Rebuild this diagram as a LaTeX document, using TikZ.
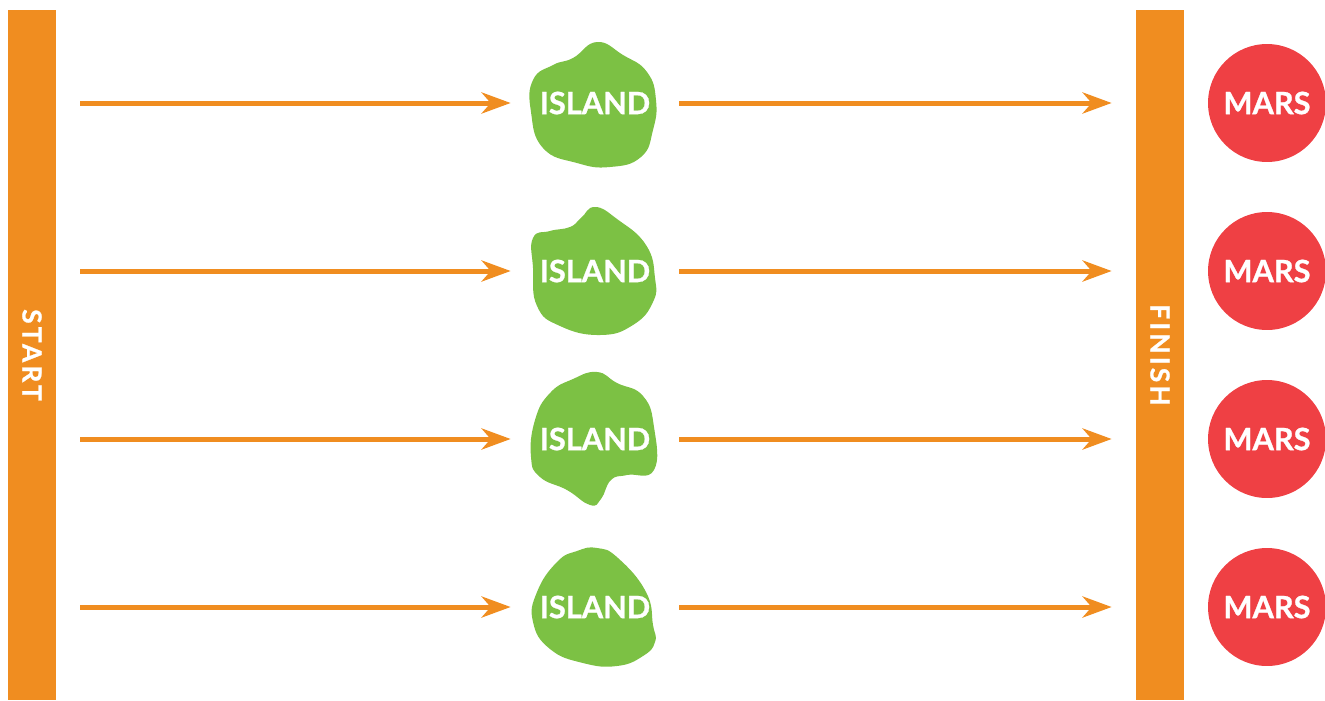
\documentclass[tikz,border=0pt]{standalone}
\usepackage{fontspec}
\setmainfont{Lato}[BoldFeatures={FakeBold=0.9}]
\newfontfamily\barfont{Lato}[LetterSpace=12, BoldFeatures={FakeBold=0.9}]
\usetikzlibrary{arrows.meta}
\definecolor{barorange}{RGB}{240,141,32}
\definecolor{islegreen}{RGB}{124,193,68}
\definecolor{marsred}{RGB}{239,64,68}
\tikzset{
  bar/.style={fill=barorange, minimum width=0.96cm, minimum height=13.8cm,
    inner sep=0pt, text=white, font=\barfont\bfseries\fontsize{15}{17}\selectfont},
  island/.style={minimum width=3.36cm, minimum height=2.4cm, inner sep=0pt,
    text=white, font=\bfseries\fontsize{17.5}{20}\selectfont},
  mars/.style={circle, fill=marsred, minimum size=2.36cm, inner sep=0pt,
    text=white, font=\bfseries\fontsize{17.5}{20}\selectfont},
  blob/.style={fill=islegreen},
  flow/.style={draw=barorange, line width=0.1cm,
    -{Stealth[length=0.58cm, width=0.42cm, inset=0.18cm]}}
}
\begin{document}
\begin{tikzpicture}[x=0.02cm, y=-0.02cm]
\useasboundingbox (0,0) rectangle (1325,700);

% start and finish bars
\node[bar] (start) at (32,355) {\rotatebox{-90}{START}};
\node[bar] (fin) at (1160,355) {\rotatebox{-90}{FINISH}};

% island outlines
\fill[blob] plot[smooth cycle, tension=0.8] coordinates {
  (597,42) (623,55) (647,72) (656,100) (653,130) (641,157) (610,167)
  (577,163) (543,148) (531,112) (533,80) (553,65) (573,58)};
\fill[blob] plot[smooth cycle, tension=0.8] coordinates {
  (595,207) (617,219) (646,245) (655,278) (653,302) (633,325) (600,335)
  (560,326) (537,306) (533,268) (533,238) (550,231) (570,227) (581,218)};
\fill[blob] plot[smooth cycle, tension=0.8] coordinates {
  (597,372) (617,383) (643,396) (654,427) (654,470) (627,475) (611,480)
  (601,499) (590,505) (567,490) (540,477) (531,457) (535,420) (550,393)
  (573,379)};
\fill[blob] plot[smooth cycle, tension=0.8] coordinates {
  (597,548) (618,558) (646,592) (653,625) (655,642) (643,656) (617,666)
  (583,663) (550,649) (533,622) (537,592) (557,562) (577,551)};

% island labels and destinations
\foreach \i/\y in {1/103, 2/271, 3/439, 4/607} {
  \node[island] (isl\i) at (595,\y) {ISLAND};
  \node[mars] (mars\i) at (1267,\y) {MARS};
  \draw[flow, shorten <=0.48cm] (start.east |- isl\i) -- (isl\i.west);
  \draw[flow, shorten >=0.48cm] (isl\i.east) -- (fin.west |- isl\i);
}
\end{tikzpicture}
\end{document}
